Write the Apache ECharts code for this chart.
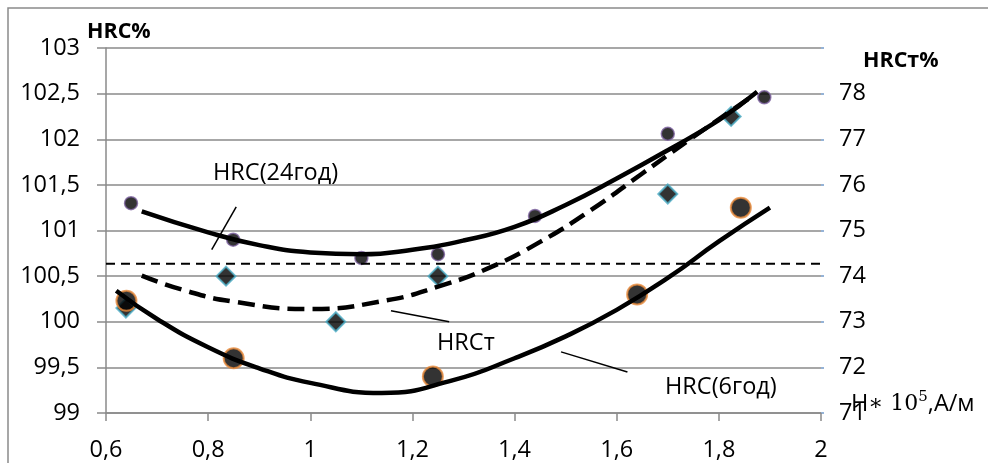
<!DOCTYPE html>
<html><head><meta charset="utf-8">
<script src="https://cdn.jsdelivr.net/npm/echarts@6/dist/echarts.min.js"></script>
<style>html,body{margin:0;padding:0;background:#fff}#c{width:988px;height:463px}</style>
</head><body><div id="c"></div>
<script>
// ---- data ----
const hrc24X = [0.649, 0.849, 1.10, 1.25, 1.44, 1.70, 1.889];
const hrc24Y = [101.30, 100.90, 100.70, 100.74, 101.16, 102.06, 102.46];

const hrc6X = [0.64, 0.85, 1.24, 1.64, 1.843];
const hrc6Y = [100.23, 99.60, 99.40, 100.30, 101.25];

const hrcTX = [0.639, 0.835, 1.05, 1.25, 1.70, 1.824];
const hrcTY = [73.3, 74.0, 73.0, 74.0, 75.8, 77.5];

const trend24X = [0.67, 0.8, 0.9, 1.0, 1.1, 1.2, 1.3, 1.4, 1.5, 1.6, 1.7, 1.8, 1.875];
const trend24Y = [101.21, 100.98, 100.84, 100.76, 100.74, 100.79, 100.89, 101.04, 101.28, 101.57, 101.88, 102.21, 102.52];

const trend6X = [0.62, 0.7, 0.8, 0.9, 1.0, 1.14, 1.28, 1.4, 1.5, 1.6, 1.7, 1.8, 1.9];
const trend6Y = [100.34, 100.03, 99.72, 99.49, 99.33, 99.22, 99.36, 99.60, 99.84, 100.13, 100.48, 100.88, 101.25];

const trendTX = [0.67, 0.75, 0.85, 1.0, 1.15, 1.25, 1.35, 1.45, 1.55, 1.65, 1.75, 1.87];
const trendTY = [74.01, 73.70, 73.44, 73.28, 73.47, 73.77, 74.18, 74.75, 75.45, 76.25, 77.05, 77.98];

const refLineX = [0.6, 2.0];
const refLineY = [74.27, 74.27];

// leader lines (data coords, left axis)
const lead24X = [0.855, 0.807], lead24Y = [101.26, 100.79];
const leadTX = [1.158, 1.272], leadTY = [100.12, 100.00];
const lead6X = [1.491, 1.621], lead6Y = [99.67, 99.45];

const xMin = 0.6, xMax = 2, xStep = 0.2;
const yLMin = 99, yLMax = 103, yLStep = 0.5;
const yRMin = 71, yRMax = 79, yRStep = 1;

const labels = {
  leftTitle: 'HRC%', rightTitle: 'HRCт%',
  a24: 'HRC(24год)', aT: 'HRCт', a6: 'HRC(6год)'
};

// ---- build ----
const zip = (xs, ys) => xs.map((x, i) => [x, ys[i]]);
const fmt = v => String(+(+v).toFixed(1)).replace('.', ',');
const FONT = '"Open Sans", "Liberation Sans", sans-serif';
const GRAY = '#8a8a8a';
const FS = 23.5;

const chart = echarts.init(document.getElementById('c'), null, {renderer: 'canvas'});
const trendLine = (xs, ys, axis, type) => ({
  type: 'line', yAxisIndex: axis, data: zip(xs, ys), smooth: true, symbol: 'none',
  lineStyle: {color: '#000', width: 4.5, type: type || 'solid', cap: 'butt'}, z: 5
});
chart.setOption({
  animation: false,
  backgroundColor: '#fff',
  grid: {left: 106, right: 167, top: 48, bottom: 50},
  xAxis: {
    type: 'value', min: xMin, max: xMax, interval: xStep,
    axisLine: {show: true, onZero: false, lineStyle: {color: GRAY, width: 1.5}},
    axisTick: {show: true, length: 8, lineStyle: {color: GRAY, width: 1.5}},
    axisLabel: {margin: 25, fontSize: FS, color: '#000', fontFamily: FONT, formatter: fmt},
    splitLine: {show: false}
  },
  yAxis: [{
    type: 'value', min: yLMin, max: yLMax, interval: yLStep, position: 'left',
    axisLine: {show: true, lineStyle: {color: GRAY, width: 1.5}},
    axisTick: {show: true, length: 9, lineStyle: {color: GRAY, width: 1.5}},
    axisLabel: {margin: 26, fontSize: FS, color: '#000', fontFamily: FONT, formatter: fmt},
    splitLine: {show: true, lineStyle: {color: GRAY, width: 1.5}}
  }, {
    type: 'value', min: yRMin, max: yRMax, interval: yRStep, position: 'right',
    axisLine: {show: false},
    axisTick: {show: true, length: 3, lineStyle: {color: '#95b3d7', width: 2}},
    axisLabel: {margin: 18, fontSize: FS, color: '#000', fontFamily: FONT,
      formatter: v => (v >= yRMax ? '' : String(v))},
    splitLine: {show: false}
  }],
  series: [
    {type: 'scatter', yAxisIndex: 1, data: zip(hrcTX, hrcTY), symbol: 'diamond', symbolSize: 19,
      itemStyle: {color: '#000', borderColor: '#4bacc6', borderWidth: 2}, z: 2},
    {type: 'scatter', yAxisIndex: 0, data: zip(hrc6X, hrc6Y), symbol: 'circle', symbolSize: 20,
      itemStyle: {color: '#000', borderColor: '#e98a3a', borderWidth: 2}, z: 3},
    {type: 'scatter', yAxisIndex: 0, data: zip(hrc24X, hrc24Y), symbol: 'circle', symbolSize: 13,
      itemStyle: {color: '#000', borderColor: '#8064a2', borderWidth: 1.5}, z: 3},
    {type: 'line', yAxisIndex: 1, data: zip(refLineX, refLineY), symbol: 'none',
      lineStyle: {color: '#000', width: 2, type: [9, 6]}, z: 4},
    trendLine(trend24X, trend24Y, 0),
    trendLine(trend6X, trend6Y, 0),
    trendLine(trendTX, trendTY, 1, [17, 8]),
    {type: 'line', yAxisIndex: 0, data: zip(lead24X, lead24Y), symbol: 'none',
      lineStyle: {color: '#000', width: 1.5}, z: 5},
    {type: 'line', yAxisIndex: 0, data: zip(leadTX, leadTY), symbol: 'none',
      lineStyle: {color: '#000', width: 1.5}, z: 5},
    {type: 'line', yAxisIndex: 0, data: zip(lead6X, lead6Y), symbol: 'none',
      lineStyle: {color: '#000', width: 1.5}, z: 5}
  ],
  graphic: [
    {type: 'polyline', shape: {points: [[8, 463], [8, 8], [988, 8]]},
      style: {stroke: GRAY, lineWidth: 1.5, fill: null}, silent: true},
    {type: 'text', x: 87, y: 32, style: {text: labels.leftTitle, font: 'bold 21.5px ' + FONT, fill: '#000', verticalAlign: 'middle'}},
    {type: 'text', x: 863, y: 61, style: {text: labels.rightTitle, font: 'bold 21.5px ' + FONT, fill: '#000', verticalAlign: 'middle'}},
    {type: 'text', x: 213, y: 173, style: {text: labels.a24, font: FS + 'px ' + FONT, fill: '#000', verticalAlign: 'middle'}},
    {type: 'text', x: 437, y: 343, style: {text: labels.aT, font: FS + 'px ' + FONT, fill: '#000', verticalAlign: 'middle'}},
    {type: 'text', x: 665, y: 387, style: {text: labels.a6, font: FS + 'px ' + FONT, fill: '#000', verticalAlign: 'middle'}},
    {type: 'text', x: 851, y: 404, style: {
      text: '{a|H}{b|∗ 10}{s|5}{a|,А/м}', verticalAlign: 'middle', fill: '#000',
      rich: {
        a: {fontFamily: FONT, fontSize: FS, fill: '#000'},
        b: {fontFamily: '"DejaVu Serif", serif', fontSize: 22, fill: '#000'},
        s: {fontFamily: '"DejaVu Serif", serif', fontSize: 15, fill: '#000', padding: [0, 0, 14, 0]}
      }}}
  ]
});
</script>
</body></html>
